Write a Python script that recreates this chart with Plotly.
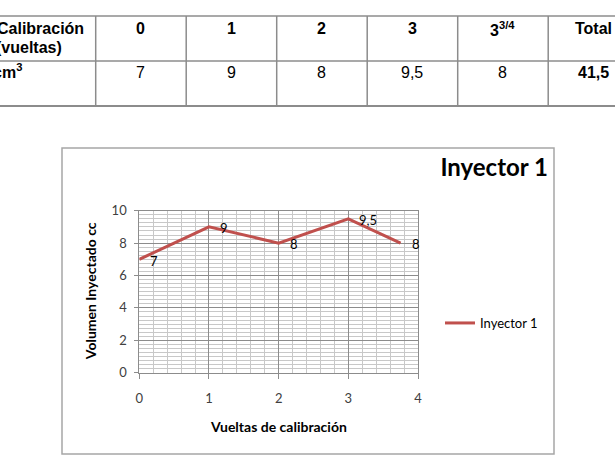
import plotly.graph_objects as go

# ---- data ----
vueltas = [0, 1, 2, 3, 3.75]
volumen = [7, 9, 8, 9.5, 8]
header_labels = ["0", "1", "2", "3", "3<sup>3/4</sup>", "Total"]
serie_nombre = "Inyector 1"
x_ticks = [0, 1, 2, 3, 4]
y_ticks = [0, 2, 4, 6, 8, 10]

W, H = 615, 460


def px(x):
    return x / W


def py(y):
    return 1 - y / H


def fmt(v):
    s = ("%g" % v)
    return s.replace(".", ",")


total = sum(volumen)
value_labels = [fmt(v) for v in volumen] + [fmt(total)]

fig = go.Figure()
fig.add_trace(go.Scatter(
    x=vueltas, y=volumen, name=serie_nombre,
    mode="lines",
    line=dict(color="#C0504D", width=3),
    cliponaxis=False,
))

shapes = []
annotations = []

# data labels
for xv, yv in zip(vueltas, volumen):
    annotations.append(dict(text=fmt(yv), x=xv, y=yv, xref="x", yref="y",
                            xanchor="left", yanchor="middle", xshift=9,
                            yshift=-2 if xv == 0 else -1,
                            showarrow=False,
                            font=dict(family="Lato", size=13, color="#000000")))

# chart outer box
shapes.append(dict(type="rect", xref="paper", yref="paper",
                   x0=px(62), x1=px(554), y0=py(454), y1=py(148),
                   line=dict(color="#A6A6A6", width=1.5), layer="below"))

# ---- table ----
tcol = "#8C8C8C"
for yy, w in [(16, 1.5), (61, 1.5), (106, 2)]:
    shapes.append(dict(type="line", xref="paper", yref="paper",
                       x0=0, x1=1, y0=py(yy), y1=py(yy),
                       line=dict(color=tcol, width=w)))
col_left = 95.7
col_w = 90.5
for i in range(len(header_labels) + 1):
    xx = col_left + i * col_w
    if xx > W:
        break
    shapes.append(dict(type="line", xref="paper", yref="paper",
                       x0=px(xx), x1=px(xx), y0=py(16), y1=py(106),
                       line=dict(color=tcol, width=1.5)))

tfont = "Liberation Sans"
annotations.append(dict(text="<b>Calibración</b>", xref="paper", yref="paper",
                        x=px(86), y=py(28.5), xanchor="right", yanchor="middle",
                        showarrow=False, font=dict(family=tfont, size=16, color="#000")))
annotations.append(dict(text="<b>(vueltas)</b>", xref="paper", yref="paper",
                        x=px(63.5), y=py(47.5), xanchor="right", yanchor="middle",
                        showarrow=False, font=dict(family=tfont, size=16, color="#000")))
annotations.append(dict(text="<b>cm<sup>3</sup></b>", xref="paper", yref="paper",
                        x=px(24), y=py(71), xanchor="right", yanchor="middle",
                        showarrow=False, font=dict(family=tfont, size=16, color="#000")))
for i, lab in enumerate(header_labels):
    cx = col_left + (i + 0.5) * col_w
    annotations.append(dict(text="<b>%s</b>" % lab, xref="paper", yref="paper",
                            x=px(cx), y=py(28.5), xanchor="center", yanchor="middle",
                            showarrow=False, font=dict(family=tfont, size=16, color="#000")))
    vl = value_labels[i]
    if i == len(header_labels) - 1:
        vl = "<b>%s</b>" % vl
    annotations.append(dict(text=vl, xref="paper", yref="paper",
                            x=px(cx), y=py(73), xanchor="center", yanchor="middle",
                            showarrow=False, font=dict(family=tfont, size=16, color="#000")))

# axis titles
annotations.append(dict(text="<b>Volumen Inyectado cc</b>", xref="paper", yref="paper",
                        x=px(90.5), y=py(291.7), textangle=-90,
                        xanchor="center", yanchor="middle", showarrow=False,
                        font=dict(family="Lato", size=14, color="#000")))
annotations.append(dict(text="<b>Vueltas de calibración</b>", xref="paper", yref="paper",
                        x=px(278.7), y=py(426.5), xanchor="center", yanchor="middle",
                        showarrow=False, font=dict(family="Lato", size=14, color="#000")))

major = "#8C8C8C"
minor = "#C8C8C8"
fig.update_layout(
    width=W, height=H,
    margin=dict(l=0, r=0, t=0, b=0),
    paper_bgcolor="white", plot_bgcolor="white",
    showlegend=True,
    title=dict(text="<b>Inyector 1</b>", x=px(548), xanchor="right", xref="paper",
               y=py(167.5), yanchor="middle", yref="paper",
               font=dict(family="Lato", size=24, color="#000")),
    legend=dict(x=px(440), y=py(323), xanchor="left", yanchor="middle",
                font=dict(family="Lato", size=13, color="#000"),
                bgcolor="rgba(0,0,0,0)", borderwidth=0),
    shapes=shapes,
    annotations=annotations,
    xaxis=dict(domain=[px(139.3), px(418)], range=[0, 4], tickvals=x_ticks,
               showgrid=True, gridcolor=major, gridwidth=1,
               minor=dict(dtick=0.2, showgrid=True, gridcolor=minor, gridwidth=1),
               showline=True, linecolor=major, linewidth=1, mirror=True,
               ticks="outside", ticklen=5, tickcolor=major,
               ticklabelstandoff=9,
               tickfont=dict(family="Lato", size=13, color="#404040"),
               zeroline=False, automargin=False, fixedrange=True),
    yaxis=dict(domain=[py(372.7), py(210.7)], range=[0, 10], tickvals=y_ticks,
               showgrid=True, gridcolor=major, gridwidth=1,
               minor=dict(dtick=0.25, showgrid=True, gridcolor=minor, gridwidth=1),
               showline=True, linecolor=major, linewidth=1, mirror=True,
               ticks="outside", ticklen=4, tickcolor=major,
               ticklabelstandoff=5,
               tickfont=dict(family="Lato", size=13, color="#404040"),
               zeroline=False, automargin=False, fixedrange=True),
)

fig.write_html("out.html")
